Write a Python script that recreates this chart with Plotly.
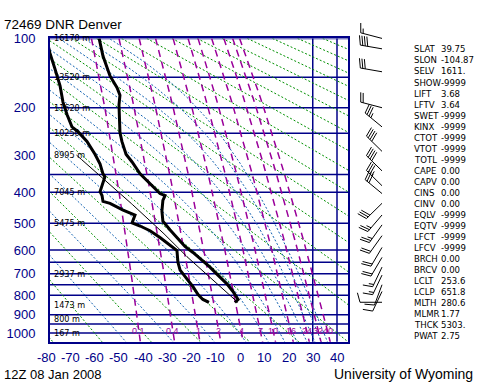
import math
import numpy as np
import plotly.graph_objects as go

KAPPA = 0.2857

# ---------------- sounding values ----------------
temp_p = [100, 121, 148, 166, 178, 195, 249, 268, 298, 317, 348, 375, 404, 410, 425,
          459, 493, 523, 552, 586, 610, 634, 671, 706, 746, 782, 821, 836]
temp_c = [-58.1, -56.5, -53.6, -50.7, -49.5, -49.9, -49.5, -48.7, -47.0, -44.5, -41.2,
          -37.1, -33.0, -30.9, -31.8, -32.2, -31.8, -28.9, -26.0, -22.7, -19.4, -16.5,
          -12.4, -9.1, -5.4, -2.9, -0.8, -2.1]

dewp_p = [107, 117, 138, 163, 190, 213, 237, 247, 268, 298, 322, 348, 356, 381, 398,
          410, 428, 434, 456, 472, 499, 510, 527, 552, 579, 602, 650, 684, 723, 759,
          797, 821, 836]
dewp_c = [-79.2, -78.4, -76.3, -74.2, -73.0, -71.3, -69.3, -66.8, -63.1, -59.8, -57.7,
          -56.5, -55.7, -56.9, -57.7, -56.9, -56.5, -53.6, -48.2, -43.3, -44.5, -41.2,
          -37.1, -33.0, -28.9, -26.0, -25.6, -24.7, -21.9, -19.4, -17.3, -15.3, -12.8]

wind_p = [100, 112, 142, 200, 237, 291, 340, 381, 404, 434, 472, 506, 545, 590, 630,
          671, 706, 750, 782, 835]
wind_dir = [285, 280, 280, 285, 310, 315, 315, 315, 310, 225, 220, 215, 215, 210, 210,
            205, 205, 200, 205, 270]
wind_kt = [15, 40, 30, 20, 35, 40, 40, 35, 30, 30, 25, 25, 20, 20, 20, 15, 15, 10, 10, 10]

# parcel (LCL from the index table)
lcl_t_k = 253.6
lcl_p = 651.8
sfc_p = 836
parcel_top_p = 300

# ---------------- diagram reference sets ----------------
dry_theta_c = list(range(-80, 361, 20))
moist_top_theta_c = [-50, -30, -10, 10, 30, 50, 70, 90, 110, 130, 150]
mixr_gkg = [0.1, 0.4, 1, 2, 4, 7, 10, 16, 24, 32, 40]
mixr_text = ["0.1", "0.4", "1", "2", "4", "7", "10", "16", "24", "32", "40"]
isobar_p = [100, 150, 200, 250, 350, 400, 500, 600, 650, 700, 750, 800, 900, 950, 1000]
isotherm_c = [30, 40]
p_ticks = [100, 200, 300, 400, 500, 600, 700, 800, 900, 1000]
t_ticks = [-80, -70, -60, -50, -40, -30, -20, -10, 0, 10, 20, 30, 40]
height_p = [100, 150, 200, 250, 300, 400, 500, 700, 850, 925, 1000]
height_txt = ["16170 m", "13520 m", "11620 m", "10250 m", "8995 m", "7045 m", "5475 m",
              "2937 m", "1473 m", "800 m", "167 m"]

title_text = "72469 DNR Denver"
time_text = "12Z 08 Jan 2008"
credit_text = "University of Wyoming"
index_names = ["SLAT", "SLON", "SELV", "SHOW", "LIFT", "LFTV", "SWET", "KINX", "CTOT",
               "VTOT", "TOTL", "CAPE", "CAPV", "CINS", "CINV", "EQLV", "EQTV", "LFCT",
               "LFCV", "BRCH", "BRCV", "LCLT", "LCLP", "MLTH", "MLMR", "THCK", "PWAT"]
index_vals = ["39.75", "-104.87", "1611.", "-9999", "3.68", "3.64", "-9999", "-9999",
              "-9999", "-9999", "-9999", "0.00", "0.00", "0.00", "0.00", "-9999", "-9999",
              "-9999", "-9999", "0.00", "0.00", "253.6", "651.8", "280.6", "1.77",
              "5303.", "2.75"]

# ---------------- styles / layout constants ----------------
W, H = 480, 384
NAVY = "#000088"
GREEN = "#009000"
BLUE = "#1060B0"
PURPLE = "#9A009A"
FONT = "Liberation Sans, Arial, sans-serif"
NARROW = "Liberation Sans Narrow, Arial Narrow, DejaVu Sans Condensed, Liberation Sans, sans-serif"
PLOT_L, PLOT_R, PLOT_T, PLOT_B = 50, 348, 32, 341
ZERO_PX, PX_PER_C = 240.0, 2.425
P_TOP = 100.0


def pk(p):
    return np.asarray(p, dtype=float) ** KAPPA


PXK = (pk(1000) - pk(100)) / 300.0  # p^kappa per pixel


def moist_rate(p, tk):
    tc = tk - 273.15
    e = 6.112 * math.exp(17.67 * tc / (tc + 243.5))
    rs = 0.622 * e / (p - e)
    return (287.04 * tk + 2.501e6 * rs) / (1005.7 + 2.501e6 ** 2 * rs * 0.622 / (287.04 * tk * tk)) / p


def moist_path(t_c, p0, p1, n=200):
    dp = (p1 - p0) / (n - 1)
    T = t_c + 273.15
    ps, ts = [p0], [T]
    pa = p0
    for _ in range(n - 1):
        k1 = moist_rate(pa, T)
        k2 = moist_rate(pa + dp / 2, T + k1 * dp / 2)
        k3 = moist_rate(pa + dp / 2, T + k2 * dp / 2)
        k4 = moist_rate(pa + dp, T + k3 * dp)
        T = T + dp * (k1 + 2 * k2 + 2 * k3 + k4) / 6
        pa = pa + dp
        ps.append(pa)
        ts.append(T)
    return np.array(ps), np.array(ts) - 273.15


def tw_for_top_theta(target_c):
    lo, hi = -90.0, 48.0
    for _ in range(30):
        mid = (lo + hi) / 2
        _, tt = moist_path(mid, 1000.0, P_TOP, n=90)
        th = (tt[-1] + 273.15) * (1000.0 / P_TOP) ** KAPPA - 273.15
        if th < target_c:
            lo = mid
        else:
            hi = mid
    return (lo + hi) / 2


fig = go.Figure()

# dry adiabats
pl = np.linspace(P_TOP, 1060, 40)
xs, ys = [], []
for th in dry_theta_c:
    T = (th + 273.15) * (pl / 1000.0) ** KAPPA - 273.15
    xs += list(T) + [None]
    ys += list(pk(pl)) + [None]
fig.add_trace(go.Scatter(x=xs, y=ys, mode="lines", hoverinfo="skip",
                         line=dict(color=GREEN, width=1, dash="2px,2px")))

# moist adiabats
xs, ys = [], []
for tgt in moist_top_theta_c:
    tw = tw_for_top_theta(tgt)
    pu, tu = moist_path(tw, 1000.0, P_TOP, n=200)
    pd_, td = moist_path(tw, 1000.0, 1060.0, n=10)
    pp = np.concatenate([pd_[::-1], pu[1:]])
    tt = np.concatenate([td[::-1], tu[1:]])
    xs += list(tt) + [None]
    ys += list(pk(pp)) + [None]
fig.add_trace(go.Scatter(x=xs, y=ys, mode="lines", hoverinfo="skip",
                         line=dict(color=BLUE, width=1, dash="2px,2px")))

# mixing ratio lines
pm = np.linspace(P_TOP, 1060, 60)
xs, ys = [], []
label_t = []
for w in mixr_gkg:
    e = (w / 1000.0) * pm / (0.622 + w / 1000.0)
    a = np.log(e / 6.112)
    T = 243.5 * a / (17.67 - a)
    xs += list(T) + [None]
    ys += list(pk(pm)) + [None]
    e0 = (w / 1000.0) * 990 / (0.622 + w / 1000.0)
    a0 = math.log(e0 / 6.112)
    label_t.append(243.5 * a0 / (17.67 - a0))
fig.add_trace(go.Scatter(x=xs, y=ys, mode="lines", hoverinfo="skip",
                         line=dict(color=PURPLE, width=1.5, dash="7px,5px")))

# parcel path
pdry = np.linspace(sfc_p, lcl_p, 20)
tdry = lcl_t_k * (pdry / lcl_p) ** KAPPA - 273.15
pmo, tmo = moist_path(lcl_t_k - 273.15, lcl_p, parcel_top_p, n=100)
fig.add_trace(go.Scatter(x=list(tdry) + list(tmo[1:]), y=list(pk(pdry)) + list(pk(pmo[1:])),
                         mode="lines", hoverinfo="skip", line=dict(color="black", width=1)))

# sounding
fig.add_trace(go.Scatter(x=dewp_c, y=pk(dewp_p), mode="lines", hoverinfo="skip",
                         line=dict(color="black", width=3)))
fig.add_trace(go.Scatter(x=temp_c, y=pk(temp_p), mode="lines", hoverinfo="skip",
                         line=dict(color="black", width=3)))

# wind barbs (x2 in pixel units, y2 in p^kappa over full height)
BX = 382.0


def barb(p, d, spd):
    lines, polys = [], []
    r = math.radians(d)
    sx, sy = math.sin(r), -math.cos(r)
    fx, fy = -sy, sx
    tilt = math.radians(15)
    ux, uy = fx * math.cos(tilt) + sx * math.sin(tilt), fy * math.cos(tilt) + sy * math.sin(tilt)
    L, FL, SP = 22.0, 10.0, 2.5
    lines.append(([0, sx * L], [0, sy * L]))
    s = int(round(spd / 5.0)) * 5
    n50, rem = divmod(s, 50)
    n10, rem = divmod(rem, 10)
    n5 = rem // 5
    pos = 0.0
    for _ in range(n50):
        a, b = L - pos, L - pos - 5
        polys.append(([sx * a, sx * b, sx * a + fx * FL, sx * a],
                      [sy * a, sy * b, sy * a + fy * FL, sy * a]))
        pos += 6
    if n50 == 0 and n10 == 0 and n5:
        pos = SP
    for _ in range(n10):
        a = L - pos
        lines.append(([sx * a, sx * a + ux * FL], [sy * a, sy * a + uy * FL]))
        pos += SP
    for _ in range(n5):
        a = L - pos
        lines.append(([sx * a, sx * a + ux * FL / 2], [sy * a, sy * a + uy * FL / 2]))
        pos += SP
    yb = float(pk(p))
    conv = lambda seg: ([BX + v for v in seg[0]], [yb + v * PXK for v in seg[1]])
    return [conv(sg) for sg in lines], [conv(sg) for sg in polys]


bx, byy, px_, py_ = [], [], [], []
for p, d, s in zip(wind_p, wind_dir, wind_kt):
    ls, ps_ = barb(p, d, s)
    for xx, yy in ls:
        bx += xx + [None]
        byy += yy + [None]
    for xx, yy in ps_:
        px_ += xx + [None]
        py_ += yy + [None]
fig.add_trace(go.Scatter(x=bx, y=byy, xaxis="x2", yaxis="y2", mode="lines", hoverinfo="skip",
                         line=dict(color="black", width=1)))
if px_:
    fig.add_trace(go.Scatter(x=px_, y=py_, xaxis="x2", yaxis="y2", mode="lines", fill="toself",
                             fillcolor="black", hoverinfo="skip", line=dict(color="black", width=1)))

# isobars and isotherms
for p in isobar_p:
    fig.add_shape(type="line", xref="x domain", x0=0, x1=1, yref="y", y0=float(pk(p)),
                  y1=float(pk(p)), line=dict(color=NAVY, width=1.5), layer="below")
for t in isotherm_c:
    fig.add_shape(type="line", xref="x", x0=t, x1=t, yref="y domain", y0=0, y1=1,
                  line=dict(color=NAVY, width=1.5), layer="below")

ann = []
# temperature tick labels on a full-width temperature axis (x3) so -80 is shown
for t in t_ticks:
    ann.append(dict(x=t, xref="x3", y=1 - 357 / H, yref="paper", text=str(t), showarrow=False,
                    font=dict(family=FONT, size=13, color=NAVY), xanchor="center",
                    yanchor="middle"))
for p, txt in zip(height_p, height_txt):
    ann.append(dict(x=(PLOT_L + 1.5) / W, xref="paper", y=float(pk(p)), yref="y", text=txt,
                    showarrow=False, font=dict(family=NARROW, size=9, color="black"),
                    xanchor="left", yanchor="middle"))
for t, txt in zip(label_t, mixr_text):
    ann.append(dict(x=float(t), xref="x", y=float(pk(990)), yref="y", text=txt,
                    showarrow=False, font=dict(family=FONT, size=9, color=PURPLE),
                    xanchor="center", yanchor="middle"))
for i, (n, v) in enumerate(zip(index_names, index_vals)):
    yy = 42.7 + i * 11.24
    ann.append(dict(x=412 / W, xref="paper", y=1 - yy / H, yref="paper", text=n,
                    showarrow=False, font=dict(family=NARROW, size=9.5, color="black"),
                    xanchor="left", yanchor="middle"))
    ann.append(dict(x=439 / W, xref="paper", y=1 - yy / H, yref="paper", text=v,
                    showarrow=False, font=dict(family=NARROW, size=9.5, color="black"),
                    xanchor="left", yanchor="middle"))
ann.append(dict(x=2 / W, xref="paper", y=1 - 18 / H, yref="paper", text=title_text,
                showarrow=False, font=dict(family=FONT, size=13.5, color="black"),
                xanchor="left", yanchor="middle"))
ann.append(dict(x=2 / W, xref="paper", y=1 - 374 / H, yref="paper", text=time_text,
                showarrow=False, font=dict(family=FONT, size=13, color="black"),
                xanchor="left", yanchor="middle"))
ann.append(dict(x=475 / W, xref="paper", y=1 - 374 / H, yref="paper", text=credit_text,
                showarrow=False, font=dict(family=FONT, size=14, color="black"),
                xanchor="right", yanchor="middle"))

y_bottom = float(pk(P_TOP)) + (PLOT_B - PLOT_T) * PXK
fig.update_layout(
    width=W, height=H, margin=dict(l=0, r=0, t=0, b=0),
    paper_bgcolor="white", plot_bgcolor="rgba(0,0,0,0)", showlegend=False,
    annotations=ann,
    xaxis=dict(domain=[PLOT_L / W, PLOT_R / W], anchor="y",
               range=[(PLOT_L - ZERO_PX) / PX_PER_C, (PLOT_R - ZERO_PX) / PX_PER_C],
               showgrid=False, zeroline=False, showticklabels=False, ticks="",
               showline=True, mirror=True, linecolor=NAVY, linewidth=2),
    yaxis=dict(domain=[1 - PLOT_B / H, 1 - PLOT_T / H], anchor="x",
               range=[y_bottom, float(pk(P_TOP))],
               tickvals=[float(v) for v in pk(p_ticks)], ticktext=[str(p) for p in p_ticks],
               tickfont=dict(family=FONT, size=13, color=NAVY),
               ticks="outside", ticklen=10, tickcolor="rgba(0,0,0,0)",
               showgrid=False, zeroline=False,
               showline=True, mirror=True, linecolor=NAVY, linewidth=2),
    xaxis2=dict(domain=[0, 1], anchor="y2", range=[0, W], visible=False),
    yaxis2=dict(domain=[0, 1], anchor="x2",
                range=[float(pk(P_TOP)) + (H - PLOT_T) * PXK, float(pk(P_TOP)) - PLOT_T * PXK],
                visible=False),
    xaxis3=dict(domain=[0, 1], anchor="y2", visible=False,
                range=[(0 - ZERO_PX) / PX_PER_C, (W - ZERO_PX) / PX_PER_C]),
)

fig.write_html(
    "out.html",
    config={"displayModeBar": False},
    post_script=("document.body.style.margin='0';document.body.style.overflow='hidden';"
                 "var gd=document.getElementById('{plot_id}');gd.style.position='absolute';"
                 "gd.style.left='0px';gd.style.top='0px';"),
)
